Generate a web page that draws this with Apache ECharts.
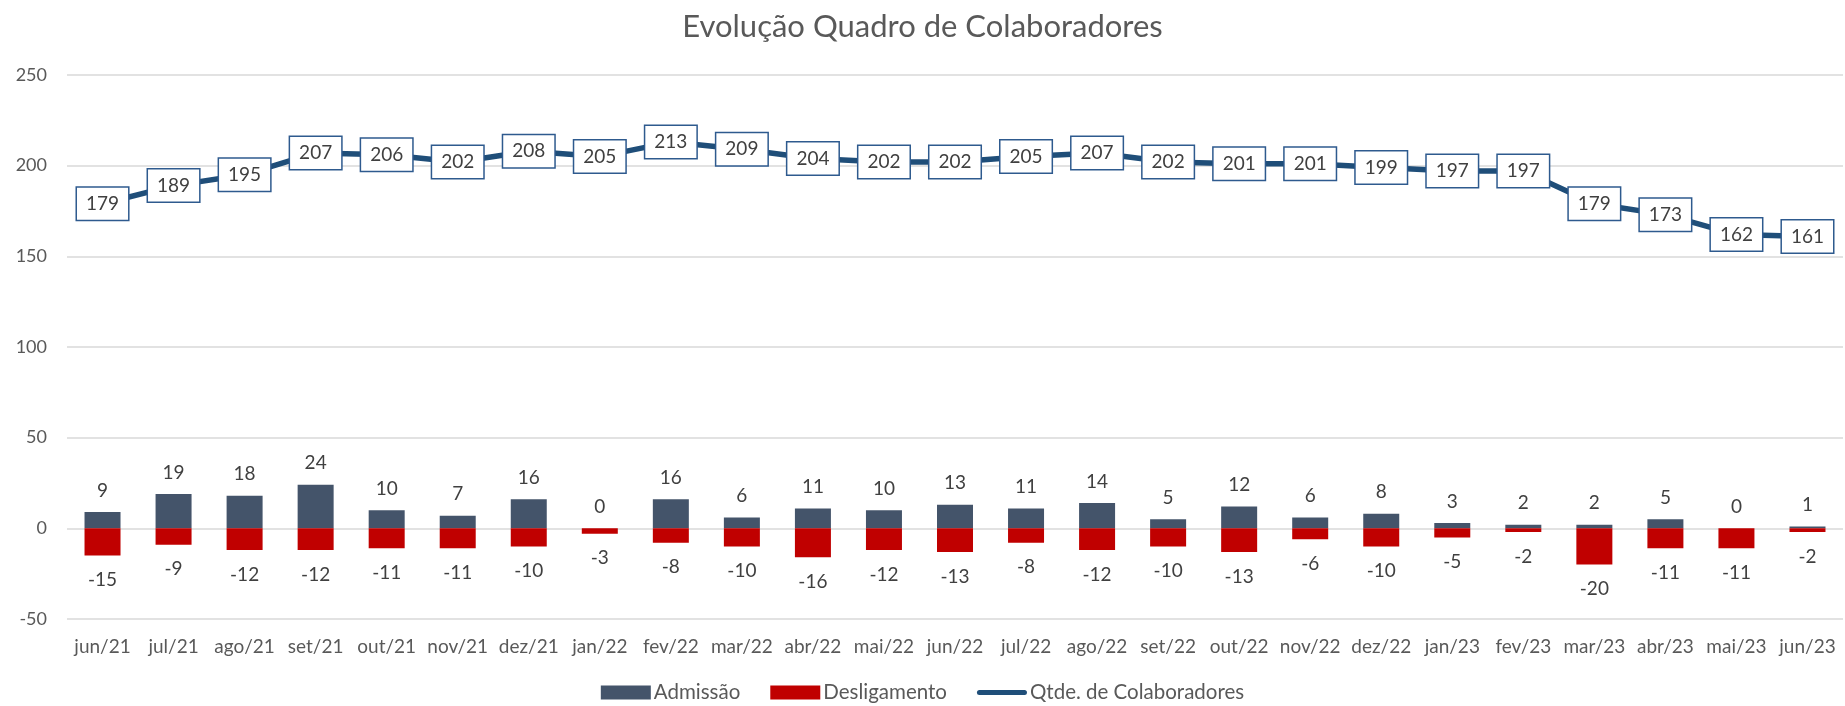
<!DOCTYPE html>
<html>
<head>
<meta charset="utf-8">
<script src="https://cdn.jsdelivr.net/npm/echarts@6/dist/echarts.min.js"></script>
<style>
html,body{margin:0;padding:0;background:#fff;}
#chart{width:1845px;height:706px;}
</style>
</head>
<body>
<div id="chart"></div>
<script>
const categories = ['jun/21','jul/21','ago/21','set/21','out/21','nov/21','dez/21','jan/22','fev/22','mar/22','abr/22','mai/22','jun/22','jul/22','ago/22','set/22','out/22','nov/22','dez/22','jan/23','fev/23','mar/23','abr/23','mai/23','jun/23'];
const admissao = [9,19,18,24,10,7,16,0,16,6,11,10,13,11,14,5,12,6,8,3,2,2,5,0,1];
const desligamento = [-15,-9,-12,-12,-11,-11,-10,-3,-8,-10,-16,-12,-13,-8,-12,-10,-13,-6,-10,-5,-2,-20,-11,-11,-2];
const colaboradores = [179,189,195,207,206,202,208,205,213,209,204,202,202,205,207,202,201,201,199,197,197,179,173,162,161];
const yTicks = {min:-50, max:250, interval:50};

const FONT = 'Lato';
const chart = echarts.init(document.getElementById('chart'));
chart.setOption({
  animation:false,
  textStyle:{fontFamily:FONT},
  title:{
    text:'Evolução Quadro de Colaboradores',
    left:'center', top:6,
    textStyle:{fontFamily:FONT, fontSize:31, fontWeight:'normal', color:'#595959'}
  },
  legend:{
    bottom:-2, left:'center',
    itemWidth:50, itemHeight:14, itemGap:30,
    textStyle:{fontFamily:FONT, fontSize:20.5, color:'#595959', padding:[0,0,0,-2]},
    data:[
      {name:'Admissão', icon:'rect'},
      {name:'Desligamento', icon:'rect'},
      {name:'Qtde. de Colaboradores', icon:'path://M5,0 L95,0 A5,5 0 0 1 95,10 L5,10 A5,5 0 0 1 5,0 Z'}
    ]
  },
  grid:{left:67, right:2, top:75, height:544, containLabel:false},
  xAxis:{
    type:'category', data:categories,
    axisLine:{show:false, onZero:false},
    axisTick:{show:false},
    axisLabel:{fontFamily:FONT, fontSize:19, color:'#595959', margin:18, interval:0}
  },
  yAxis:{
    type:'value', min:yTicks.min, max:yTicks.max, interval:yTicks.interval,
    axisLine:{show:false}, axisTick:{show:false},
    axisLabel:{fontFamily:FONT, fontSize:18, color:'#595959', margin:20},
    splitLine:{lineStyle:{color:'#D9D9D9', width:1.5}}
  },
  series:[
    {
      name:'Admissão', type:'bar', data:admissao, barWidth:36, barGap:'-100%',
      itemStyle:{color:'#44546A'},
      label:{show:true, position:'top', distance:12, fontFamily:FONT, fontSize:19, color:'#404040'}
    },
    {
      name:'Desligamento', type:'bar', data:desligamento, barWidth:36,
      itemStyle:{color:'#C00000'},
      label:{show:true, position:'bottom', distance:15, fontFamily:FONT, fontSize:19, color:'#404040'}
    },
    {
      name:'Qtde. de Colaboradores', type:'line', data:colaboradores,
      symbol:'circle', symbolSize:1, showSymbol:true,
      lineStyle:{color:'#1F4E79', width:5.5},
      itemStyle:{color:'#1F4E79'},
      z:5,
      label:{
        show:true, position:'inside', fontFamily:FONT, fontSize:19, color:'#404040',
        backgroundColor:'#FFFFFF', borderColor:'#2E5A8E', borderWidth:1.5,
        padding:[7,9,6,9]
      }
    }
  ]
});
</script>
</body>
</html>
